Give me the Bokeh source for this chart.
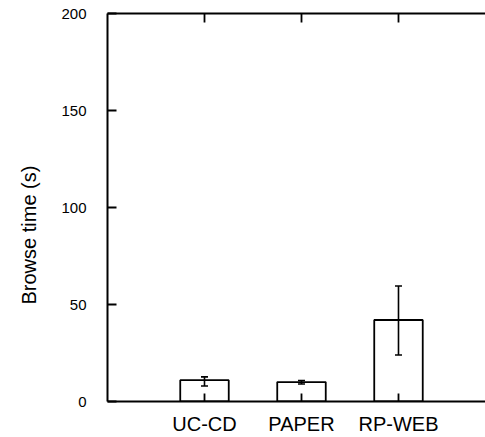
from bokeh.plotting import figure
from bokeh.models import (ColumnDataSource, Range1d, LinearAxis, FixedTicker,
                          Whisker, TeeHead, Title)
from bokeh.embed import file_html
from bokeh.resources import INLINE

categories = ["UC-CD", "PAPER", "RP-WEB"]
positions = [1, 2, 3]
means = [11, 10, 42]
err_low = [8, 9, 24]
err_high = [12.7, 10.8, 59.5]
y_ticks = [0, 50, 100, 150, 200]

FONT = "Liberation Sans"

p = figure(width=485, height=437, output_backend="svg", toolbar_location=None,
           x_range=Range1d(0, 3.897), y_range=Range1d(0, 200),
           x_axis_location=None, y_axis_location=None,
           min_border_left=107, min_border_right=0, min_border_top=13,
           min_border_bottom=35)
p.outline_line_color = None
p.xgrid.visible = False
p.ygrid.visible = False
p.background_fill_color = "white"
p.border_fill_color = "white"

src = ColumnDataSource(dict(x=positions, top=means, lo=err_low, hi=err_high))
p.vbar(x="x", top="top", bottom=0, width=0.5, source=src,
       fill_color="white", line_color="black", line_width=1.8)

wh = Whisker(base="x", upper="hi", lower="lo", source=src, level="overlay",
             line_color="black", line_width=1.6,
             upper_head=TeeHead(size=7, line_color="black", line_width=1.6),
             lower_head=TeeHead(size=7, line_color="black", line_width=1.6))
p.add_layout(wh)

# left axis
yax = LinearAxis(ticker=FixedTicker(ticks=y_ticks))
yax.axis_line_width = 2
yax.major_tick_in = 9
yax.major_tick_out = 0
yax.major_tick_line_width = 1.8
yax.minor_tick_line_color = None
yax.major_label_standoff = 21
yax.major_label_text_font = FONT
yax.major_label_text_font_size = "15px"
yax.major_label_text_color = "black"
p.add_layout(yax, "left")

ytitle = Title(text="Browse time (s)", align="left", offset=97, standoff=34,
               vertical_align="top",
               text_font=FONT, text_font_size="20px", text_font_style="normal",
               text_color="black")
p.add_layout(ytitle, "left")

# bottom axis
xax = LinearAxis(ticker=FixedTicker(ticks=positions))
xax.major_label_overrides = {pos: c for pos, c in zip(positions, categories)}
xax.axis_line_width = 2
xax.major_tick_in = 8
xax.major_tick_out = 0
xax.major_tick_line_width = 1.8
xax.minor_tick_line_color = None
xax.major_label_standoff = 11
xax.major_label_text_font = FONT
xax.major_label_text_font_size = "20px"
xax.major_label_text_color = "black"
p.add_layout(xax, "below")

# top axis (line with inward ticks, no labels)
tax = LinearAxis(ticker=FixedTicker(ticks=positions))
tax.major_label_overrides = {pos: "" for pos in positions}
tax.axis_line_width = 2
tax.major_tick_in = 9
tax.major_tick_out = 0
tax.major_tick_line_width = 1.8
tax.minor_tick_line_color = None
tax.major_label_standoff = 0
tax.major_label_text_font_size = "1px"
p.add_layout(tax, "above")

open("out.html", "w").write(file_html(p, INLINE))
